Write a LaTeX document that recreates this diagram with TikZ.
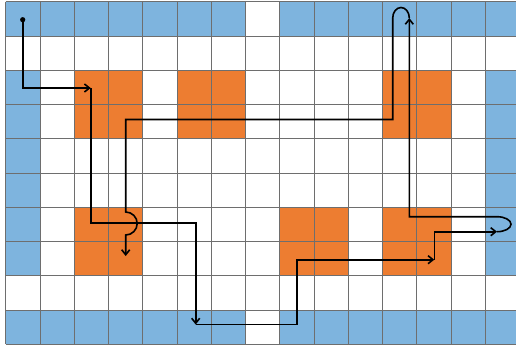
\documentclass[tikz,border=0pt]{standalone}
\usetikzlibrary{arrows.meta}
\definecolor{cellblue}{RGB}{126,180,222}
\definecolor{cellorange}{RGB}{237,125,49}
\definecolor{gridgray}{RGB}{110,110,110}
\begin{document}
\begin{tikzpicture}[x=1pt,y=1pt,
  route/.style={line width=1.6pt, black, line join=miter},
  tipped/.style={route, -{Straight Barb[length=5pt,width=8pt]}},
  bluecell/.style={fill=cellblue},
  orangecell/.style={fill=cellorange},
  gridline/.style={draw=gridgray, line width=0.9pt}]
\useasboundingbox (0,0) rectangle (516,349);
\pgfmathsetmacro\cs{34.25}
\pgfmathsetmacro\xo{5.7}
\pgfmathsetmacro\yt{347.3}
\begin{scope}
\clip (0,0) rectangle (516,349);
\foreach \rr in {0,9}
  \foreach \cc in {0,...,6,8,9,...,14}
    \fill[bluecell] ({\xo+\cs*\cc},{\yt-\cs*(\rr+1)}) rectangle +(\cs,\cs);
\foreach \cc in {0,14}
  \foreach \rr in {2,...,7}
    \fill[bluecell] ({\xo+\cs*\cc},{\yt-\cs*(\rr+1)}) rectangle +(\cs,\cs);
\foreach \cc/\rr in {2/2,5/2,11/2,2/6,8/6,11/6}
  \fill[orangecell] ({\xo+\cs*\cc},{\yt-\cs*(\rr+2)}) rectangle +({2*\cs},{2*\cs});
\foreach \i in {0,...,15}
  \draw[gridline] ({\xo+\cs*\i},{\yt}) -- ({\xo+\cs*\i},{\yt-10*\cs});
\foreach \j in {0,...,10}
  \draw[gridline] ({\xo},{\yt-\cs*\j}) -- ({\xo+15*\cs},{\yt-\cs*\j});
\end{scope}
% route coordinates
\coordinate (s) at (22.7,329.3);
\coordinate (a1) at (22.7,261);
\coordinate (a2) at (90.7,261);
\coordinate (a3) at (90.7,126);
\coordinate (a4) at (195.7,126);
\coordinate (a5) at (195.7,24.5);
\coordinate (a6) at (297,24.5);
\coordinate (a7) at (297,89.3);
\coordinate (a8) at (434.3,89.3);
\coordinate (a9) at (434.3,117.3);
\coordinate (a10) at (497,117.3);
\coordinate (b2) at (409.3,132.3);
\coordinate (b3) at (409.3,331);
\coordinate (b5) at (392.7,229.5);
\coordinate (b6) at (125.7,229.5);
\coordinate (b7) at (125.7,137);
\coordinate (b9) at (125.7,93);
\fill (s) circle (2.6);
\draw[tipped] (s) -- (a1) -- (a2);
\draw[tipped] (a2) -- (a3) -- (a4) -- (a5);
\draw[tipped] (a5) -- (a6) -- (a7) -- (a8);
\draw[tipped] (a8) -- (a9) -- (a10);
\draw[tipped] (a10) arc[start angle=-90,end angle=90,x radius=14,y radius=7.5] -- (b2) -- (b3);
\draw[tipped] (b3) arc[start angle=0,end angle=180,x radius=8.3,y radius=10.5] -- (b5) -- (b6) -- (b7)
  arc[start angle=90,end angle=-90,radius=11.5] -- (b9);
\end{tikzpicture}
\end{document}
